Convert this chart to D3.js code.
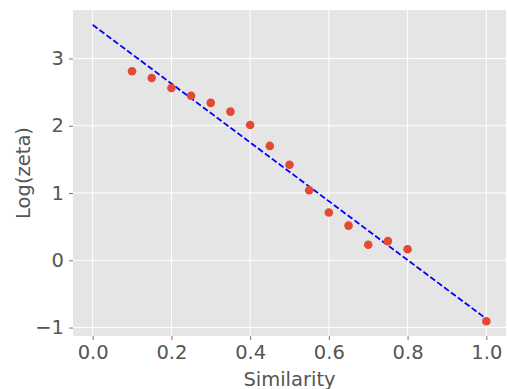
<!DOCTYPE html>
<html>
<head>
<meta charset="utf-8">
<script src="https://cdn.jsdelivr.net/npm/d3@7"></script>
<style>
  body { margin: 0; background: #fff; }
  svg { display: block; font-family: "DejaVu Sans", sans-serif; }
</style>
</head>
<body>
<div id="chart"></div>
<script>
// observed points
const similarity = [0.1, 0.15, 0.2, 0.25, 0.3, 0.35, 0.4, 0.45, 0.5, 0.55, 0.6, 0.65, 0.7, 0.75, 0.8, 1.0];
const logZeta = [2.81, 2.71, 2.56, 2.445, 2.34, 2.21, 2.01, 1.70, 1.42, 1.04, 0.71, 0.515, 0.23, 0.285, 0.165, -0.905];
// fitted line end points
const fitX = [0, 1];
const fitY = [3.5, -0.87];
const xTicks = [0, 0.2, 0.4, 0.6, 0.8, 1.0];
const yTicks = [-1, 0, 1, 2, 3];

const width = 507, height = 389;
const margin = { top: 10, right: 1, bottom: 53, left: 73 };

const svg = d3.select("#chart").append("svg")
  .attr("width", width)
  .attr("height", height);

const x = d3.scaleLinear()
  .domain([-0.05, 1.05])
  .range([margin.left, width - margin.right]);

const yMin = -0.905, yMax = 3.5, pad = (yMax - yMin) * 0.05;
const y = d3.scaleLinear()
  .domain([yMin - pad, yMax + pad])
  .range([height - margin.bottom, margin.top]);

// panel background
svg.append("rect")
  .attr("x", margin.left)
  .attr("y", margin.top)
  .attr("width", width - margin.right - margin.left)
  .attr("height", height - margin.bottom - margin.top)
  .attr("fill", "#e5e5e5");

// grid
svg.append("g").selectAll("line").data(xTicks).join("line")
  .attr("x1", d => x(d)).attr("x2", d => x(d))
  .attr("y1", margin.top).attr("y2", height - margin.bottom)
  .attr("stroke", "#fff").attr("stroke-width", 1);
svg.append("g").selectAll("line").data(yTicks).join("line")
  .attr("y1", d => y(d)).attr("y2", d => y(d))
  .attr("x1", margin.left).attr("x2", width - margin.right)
  .attr("stroke", "#fff").attr("stroke-width", 1);

// axes
const xAxis = svg.append("g")
  .attr("transform", `translate(0,${height - margin.bottom})`)
  .call(d3.axisBottom(x).tickValues(xTicks).tickFormat(d3.format(".1f")).tickSize(4).tickPadding(5));
const yAxis = svg.append("g")
  .attr("transform", `translate(${margin.left},0)`)
  .call(d3.axisLeft(y).tickValues(yTicks).tickFormat(d => d < 0 ? "\u2212" + Math.abs(d) : d).tickSize(4).tickPadding(5));

[xAxis, yAxis].forEach(g => {
  g.select(".domain").remove();
  g.selectAll(".tick line").attr("stroke", "#555").attr("stroke-width", 0.8);
  g.selectAll(".tick text")
    .attr("fill", "#555")
    .style("font-size", "19.5px")
    .style("font-family", "DejaVu Sans");
});

// fitted dashed line
svg.append("path")
  .datum(fitX.map((d, i) => [d, fitY[i]]))
  .attr("fill", "none")
  .attr("stroke", "#0000ff")
  .attr("stroke-width", 1.8)
  .attr("stroke-dasharray", "6,2.6")
  .attr("d", d3.line().x(d => x(d[0])).y(d => y(d[1])));

// points
svg.append("g").selectAll("circle")
  .data(similarity.map((d, i) => [d, logZeta[i]]))
  .join("circle")
  .attr("cx", d => x(d[0]))
  .attr("cy", d => y(d[1]))
  .attr("r", 4.3)
  .attr("fill", "#e24a33");

// axis labels
svg.append("text")
  .attr("x", (margin.left + width - margin.right) / 2)
  .attr("y", 385.5)
  .attr("text-anchor", "middle")
  .attr("fill", "#555")
  .style("font-size", "19.5px")
  .text("Similarity");

svg.append("text")
  .attr("transform", `translate(30,${(margin.top + height - margin.bottom) / 2}) rotate(-90)`)
  .attr("text-anchor", "middle")
  .attr("fill", "#555")
  .style("font-size", "19.5px")
  .text("Log(zeta)");
</script>
</body>
</html>
